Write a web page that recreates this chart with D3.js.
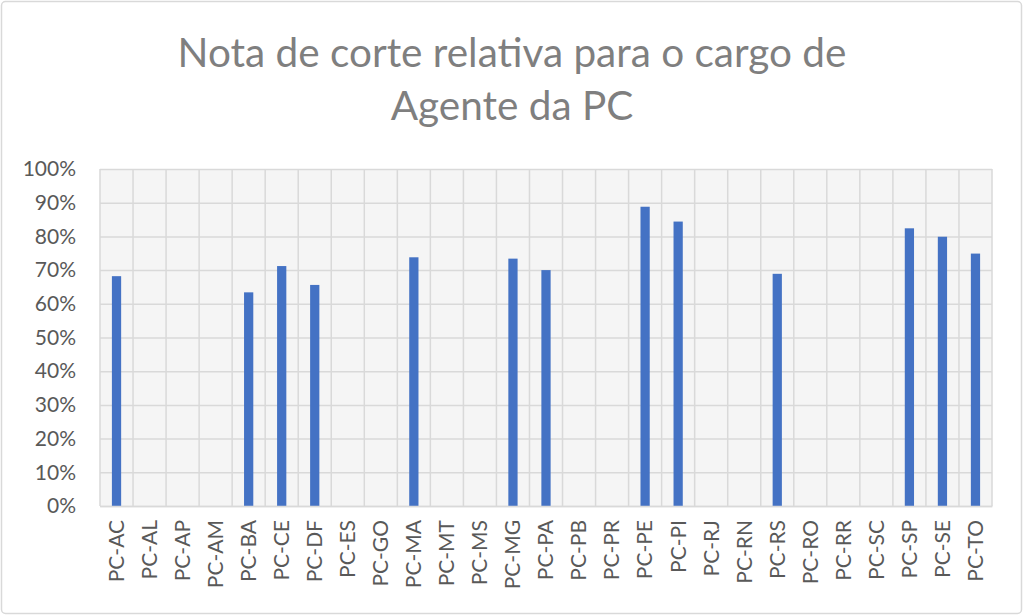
<!DOCTYPE html>
<html>
<head>
<meta charset="utf-8">
<script src="https://cdn.jsdelivr.net/npm/d3@7"></script>
<style>
  html, body { margin: 0; padding: 0; background: #fff; }
  svg { display: block; }
</style>
</head>
<body>
<div id="chart"></div>
<script>
// categories and values (null = no bar)
var states = ["PC-AC", "PC-AL", "PC-AP", "PC-AM", "PC-BA", "PC-CE", "PC-DF", "PC-ES", "PC-GO",
  "PC-MA", "PC-MT", "PC-MS", "PC-MG", "PC-PA", "PC-PB", "PC-PR", "PC-PE", "PC-PI", "PC-RJ",
  "PC-RN", "PC-RS", "PC-RO", "PC-RR", "PC-SC", "PC-SP", "PC-SE", "PC-TO"];
var notas = [0.682, null, null, null, 0.634, 0.712, 0.656, null, null,
  0.738, null, null, 0.734, 0.700, null, null, 0.888, 0.844, null,
  null, 0.689, null, null, null, 0.824, 0.799, 0.749];
var yTicks = [0, 0.1, 0.2, 0.3, 0.4, 0.5, 0.6, 0.7, 0.8, 0.9, 1];
var titleLines = ["Nota de corte relativa para o cargo de", "Agente da PC"];

function draw_chart() {
  var width = 1024, height = 615;
  var margin = {top: 169, right: 32, bottom: 109, left: 100};
  var font = "Lato, 'Open Sans', sans-serif";

  var svg = d3.select("div#chart")
    .append("svg")
    .attr("width", width)
    .attr("height", height);

  // outer chart frame
  svg.append("rect")
    .attr("x", 1.5).attr("y", 1.5)
    .attr("width", width - 4).attr("height", height - 3)
    .attr("rx", 4)
    .attr("fill", "#fff")
    .attr("stroke", "#d9d9d9")
    .attr("stroke-width", 1.5);

  svg.append("g")
    .selectAll("text")
    .data(titleLines)
    .join("text")
    .attr("x", 512)
    .attr("y", (d, i) => 67 + i * 53)
    .attr("text-anchor", "middle")
    .attr("font-family", font)
    .attr("font-size", 40.5)
    .attr("fill", "#7f7f7f")
    .text(d => d);

  var x = d3.scaleBand()
    .domain(states)
    .range([margin.left, width - margin.right]);

  var y = d3.scaleLinear()
    .domain([0, 1])
    .range([height - margin.bottom, margin.top]);

  // plot background
  svg.append("rect")
    .attr("x", margin.left)
    .attr("y", margin.top)
    .attr("width", width - margin.left - margin.right)
    .attr("height", height - margin.top - margin.bottom)
    .attr("fill", "#f5f5f5");

  // horizontal grid + y labels
  var yAxis = svg.append("g")
    .attr("transform", `translate(${margin.left},0)`)
    .call(d3.axisLeft(y)
      .tickValues(yTicks)
      .tickFormat(d3.format(".0%"))
      .tickSize(-(width - margin.left - margin.right))
      .tickPadding(24));
  yAxis.select(".domain").remove();
  yAxis.selectAll("line")
    .attr("stroke", "#d9d9d9")
    .attr("stroke-width", 1.5);
  yAxis.selectAll("text")
    .attr("font-family", font)
    .attr("font-size", 21)
    .attr("fill", "#595959");

  // vertical grid at category boundaries
  var bounds = states.map(d => x(d)).concat([x.range()[1]]);
  svg.append("g")
    .selectAll("line")
    .data(bounds)
    .join("line")
    .attr("x1", d => d).attr("x2", d => d)
    .attr("y1", y(1)).attr("y2", y(0))
    .attr("stroke", "#d9d9d9")
    .attr("stroke-width", 1.5);

  // bars
  var barW = x.bandwidth() * 0.28;
  svg.append("g")
    .selectAll("rect")
    .data(states.map((s, i) => ({state: s, value: notas[i]})).filter(d => d.value != null))
    .join("rect")
    .attr("x", d => x(d.state) + (x.bandwidth() - barW) / 2)
    .attr("y", d => y(d.value))
    .attr("width", barW)
    .attr("height", d => y(0) - y(d.value))
    .attr("fill", "#4472c4");

  // x axis labels, rotated
  var xAxis = svg.append("g")
    .attr("transform", `translate(0,${y(0)})`)
    .call(d3.axisBottom(x).tickSize(0).tickPadding(0));
  xAxis.select(".domain")
    .attr("stroke", "#d9d9d9")
    .attr("stroke-width", 1.5);
  xAxis.selectAll("text")
    .attr("font-family", font)
    .attr("font-size", 21)
    .attr("fill", "#595959")
    .attr("text-anchor", "end")
    .attr("dy", "0.35em")
    .attr("transform", "translate(0,14) rotate(-90)");
}
draw_chart();
</script>
</body>
</html>
